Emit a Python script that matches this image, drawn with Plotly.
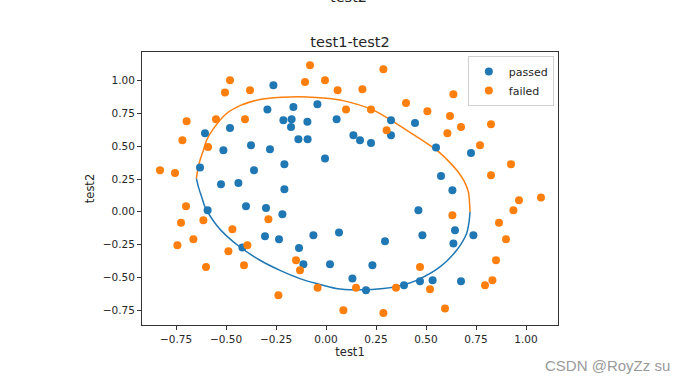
import plotly.graph_objects as go

# ---- data ----
passed_x = [-0.263, -0.293, -0.163, -0.043, -0.213, -0.172, -0.175, -0.093, 0.053, -0.605,
            -0.48, -0.138, -0.092, -0.513, -0.375, -0.28, -0.005, -0.208, -0.36, -0.63,
            0.325, 0.445, 0.137, 0.17, 0.225, 0.325, 0.55, 0.725, 0.575, -0.525,
            -0.438, -0.208, -0.40, -0.30, -0.218, -0.592, -0.305, -0.235, -0.063, 0.065,
            -0.418, -0.135, -0.113, 0.02, 0.632, 0.462, 0.295, 0.482, 0.645, 0.737,
            0.637, 0.232, 0.132, 0.20, 0.39, 0.47, 0.533, 0.675]
passed_y = [0.966, 0.78, 0.80, 0.82, 0.698, 0.706, 0.647, 0.686, 0.706, 0.60,
            0.64, 0.553, 0.553, 0.469, 0.508, 0.477, 0.406, 0.363, 0.317, 0.337,
            0.698, 0.678, 0.584, 0.546, 0.525, 0.584, 0.49, 0.449, 0.273, 0.21,
            0.22, 0.172, 0.042, 0.029, -0.019, 0.011, -0.187, -0.21, -0.179, -0.159,
            -0.273, -0.276, -0.40, -0.40, 0.164, 0.011, -0.225, -0.179, -0.141, -0.179,
            -0.243, -0.408, -0.51, -0.599, -0.561, -0.53, -0.523, -0.53]

failed_x = [-0.08, -0.48, -0.505, -0.38, -0.105, -0.005, 0.058, 0.10, -0.697, -0.55,
            -0.405, -0.718, -0.59, -0.83, -0.755, 0.287, 0.182, 0.225, 0.40, 0.507,
            0.637, 0.62, 0.607, 0.675, 0.825, 0.303, 0.77, 0.925, 0.825, -0.70,
            -0.725, -0.613, -0.743, -0.663, -0.468, -0.288, -0.488, -0.393, -0.60, -0.41,
            -0.15, -0.13, -0.042, -0.238, 0.087, 1.075, 0.965, 0.937, 0.632, 0.865,
            0.90, 0.85, 0.832, 0.795, 0.47, 0.52, 0.35, 0.15, 0.287, 0.595]
failed_y = [1.118, 1.004, 0.91, 0.927, 0.99, 1.004, 0.927, 0.78, 0.69, 0.706,
            0.706, 0.546, 0.495, 0.317, 0.296, 1.088, 0.935, 0.78, 0.83, 0.767,
            0.897, 0.731, 0.60, 0.647, 0.668, 0.622, 0.508, 0.363, 0.279, 0.042,
            -0.083, -0.065, -0.256, -0.21, -0.134, -0.057, -0.302, -0.256, -0.421, -0.408,
            -0.37, -0.447, -0.579, -0.637, -0.752, 0.108, 0.088, 0.011, -0.027, -0.083,
            -0.21, -0.37, -0.523, -0.561, -0.421, -0.592, -0.579, -0.579, -0.772, -0.739]

# decision boundary, upper and lower branches
upper_x = [-0.648, -0.640, -0.630, -0.613, -0.597, -0.560, -0.497, -0.430, -0.347, -0.220,
           -0.097, 0.000, 0.085, 0.237, 0.403, 0.553, 0.620, 0.660, 0.690, 0.712, 0.720]
upper_y = [0.255, 0.330, 0.393, 0.469, 0.546, 0.640, 0.750, 0.810, 0.851, 0.873,
           0.876, 0.866, 0.848, 0.775, 0.622, 0.470, 0.375, 0.305, 0.235, 0.150, 0.000]
lower_x = [-0.648, -0.638, -0.620, -0.605, -0.547, -0.500, -0.430, -0.330, -0.230, -0.130,
           -0.047, 0.050, 0.150, 0.287, 0.380, 0.453, 0.570, 0.653, 0.703, 0.715, 0.720]
lower_y = [0.255, 0.190, 0.105, 0.037, -0.103, -0.180, -0.269, -0.370, -0.447, -0.510,
           -0.548, -0.585, -0.595, -0.586, -0.560, -0.523, -0.421, -0.294, -0.166, -0.080, 0.000]

tick_x = [-0.75, -0.50, -0.25, 0.00, 0.25, 0.50, 0.75, 1.00]
tick_y = [-0.75, -0.50, -0.25, 0.00, 0.25, 0.50, 0.75, 1.00]

BLUE = "#1f77b4"
ORANGE = "#ff7f0e"
FONT = "DejaVu Sans"

fig = go.Figure()
fig.add_trace(go.Scatter(x=lower_x, y=lower_y, mode="lines",
                         line=dict(color=BLUE, width=1.5, shape="spline", smoothing=0.8),
                         showlegend=False, hoverinfo="skip"))
fig.add_trace(go.Scatter(x=upper_x, y=upper_y, mode="lines",
                         line=dict(color=ORANGE, width=1.5, shape="spline", smoothing=0.8),
                         showlegend=False, hoverinfo="skip"))
fig.add_trace(go.Scatter(x=passed_x, y=passed_y, mode="markers", name="passed",
                         marker=dict(color=BLUE, size=8, line=dict(width=0))))
fig.add_trace(go.Scatter(x=failed_x, y=failed_y, mode="markers", name="failed",
                         marker=dict(color=ORANGE, size=8, line=dict(width=0))))

def ticklabel(v):
    s = f"{abs(v):.2f}"
    return ("\u2212" + s) if v < 0 else s

axis_common = dict(showgrid=False, zeroline=False, showline=True, mirror=True,
                   linecolor="#333333", linewidth=1, ticks="outside", ticklen=4,
                   tickwidth=1, tickcolor="#333333",
                   tickfont=dict(family=FONT, size=10.5, color="#262626"))

fig.update_layout(
    width=689, height=386,
    margin=dict(l=142, r=131, t=52, b=61),
    paper_bgcolor="white", plot_bgcolor="white",
    font=dict(family=FONT, color="#262626"),
    title=dict(text="test1-test2", x=350 / 689, xanchor="center",
               y=1 - 42 / 386, yanchor="middle",
               font=dict(family=FONT, size=14.5, color="#262626")),
    xaxis=dict(range=[-0.92, 1.16], tickvals=tick_x, ticktext=[ticklabel(v) for v in tick_x],
               title=dict(text="test1", font=dict(family=FONT, size=11.5), standoff=4),
               **axis_common),
    yaxis=dict(range=[-0.864, 1.219], tickvals=tick_y, ticktext=[ticklabel(v) for v in tick_y],
               title=dict(text="test2", font=dict(family=FONT, size=11.5), standoff=5),
               **axis_common),
    legend=dict(x=0.990, y=0.985, xanchor="right", yanchor="top",
                bgcolor="rgba(255,255,255,0.8)", bordercolor="#d0d0d0", borderwidth=1,
                font=dict(family=FONT, size=11, color="#262626")),
    annotations=[
        dict(text="test2", xref="paper", yref="paper", x=(348 - 142) / 416,
             y=(325 - 7) / 273, xanchor="center", yanchor="bottom", showarrow=False,
             font=dict(family=FONT, size=14.5, color="#262626")),
        dict(text="CSDN @RoyZz su", xref="paper", yref="paper", x=(672 - 142) / 416,
             y=(325 - 365) / 273, xanchor="right", yanchor="middle", showarrow=False,
             font=dict(family="Liberation Sans", size=15, color="#9a9a9a")),
    ],
)

fig.write_html("out.html", config={"displayModeBar": False},
               post_script="document.body.style.margin='0';")
